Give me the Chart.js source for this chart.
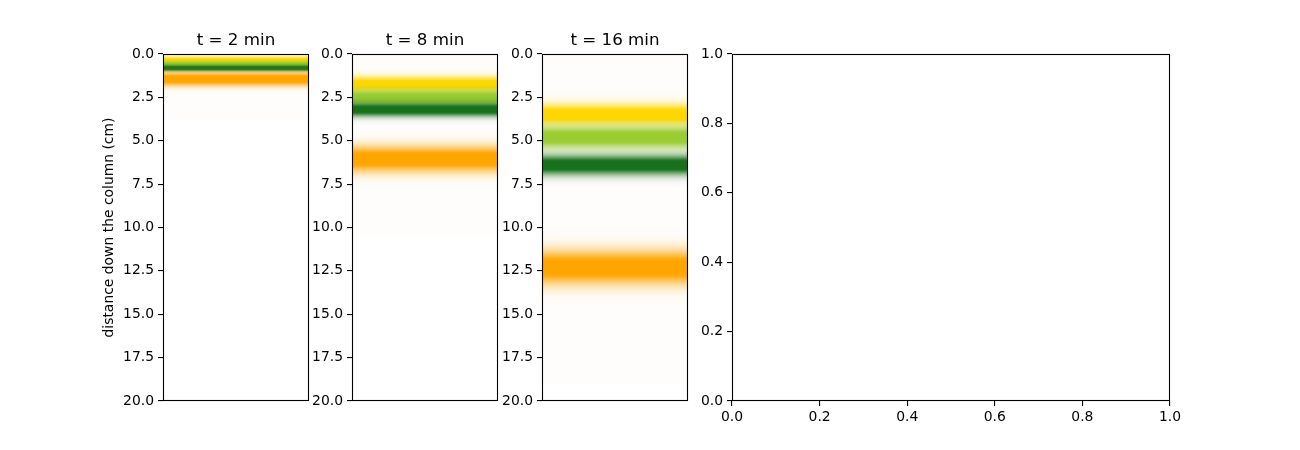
<!DOCTYPE html>
<html>
<head>
<meta charset="utf-8">
<script src="https://cdn.jsdelivr.net/npm/chart.js@4/dist/chart.umd.min.js"></script>
<style>
  body { margin: 0; background: #fff; width: 1300px; height: 450px; position: relative; overflow: hidden; }
  .panel { position: absolute; top: 0; height: 450px; }
</style>
</head>
<body>
<div class="panel" id="p0"><canvas id="c0"></canvas></div>
<div class="panel" id="p1"><canvas id="c1"></canvas></div>
<div class="panel" id="p2"><canvas id="c2"></canvas></div>
<div class="panel" id="p3"><canvas id="c3"></canvas></div>
<script>
// chart data
const timeLabels = ["t = 2 min", "t = 8 min", "t = 16 min"];
const pigmentNames = ["yellow", "yellow-green", "green", "orange"];
const pigmentColors = ["#ffd700", "#9acd32", "#17701a", "#ffa500"];
// band centres (cm down the column) per panel
const bandCenters2 = [0.40, 0.62, 0.82, 1.45];
const bandCenters8 = [1.75, 2.50, 3.20, 6.05];
const bandCenters16 = [3.50, 4.80, 6.40, 12.30];
// band spread (cm) per panel
const bandWidths2 = [0.17, 0.14, 0.12, 0.26];
const bandWidths8 = [0.30, 0.30, 0.27, 0.50];
const bandWidths16 = [0.40, 0.42, 0.38, 0.65];
// faint trail of solvent front
const smearEnds = [3.8, 10.5, 19.0];
const columnLength = 20;
const yLabel = "distance down the column (cm)";

const allCenters = [bandCenters2, bandCenters8, bandCenters16];
const allWidths = [bandWidths2, bandWidths8, bandWidths16];

// layout of the four axes (px)
const axLeft = [163, 352, 542, 732];
const axWidth = [146, 146, 146, 438];
const yAxisWidth = [72, 44, 44, 44];
const rightPad = 20;

Chart.defaults.font.family = "'DejaVu Sans', sans-serif";
Chart.defaults.font.size = 13.9;
Chart.defaults.color = "#000";

const framePlugin = {
  id: "frame",
  afterDatasetsDraw(chart) {
    const a = chart.chartArea;
    const ctx = chart.ctx;
    ctx.save();
    ctx.strokeStyle = "#000";
    ctx.lineWidth = 1.1;
    ctx.strokeRect(Math.round(a.left) + 0.5, Math.round(a.top) + 0.5,
      Math.round(a.right - a.left) - 1, Math.round(a.bottom - a.top) - 1);
    ctx.restore();
  }
};

function hexToRgb(h) {
  const n = parseInt(h.slice(1), 16);
  return [(n >> 16) & 255, (n >> 8) & 255, n & 255];
}

// fill each band with a soft gradient across its spread
function bandFill(color, c, s) {
  const rgb = hexToRgb(color);
  return function (ctx) {
    const chart = ctx.chart;
    if (!chart.chartArea) return color;
    const y = chart.scales.y;
    const p0 = y.getPixelForValue(c - 3.5 * s);
    const p1 = y.getPixelForValue(c + 3.5 * s);
    const g = chart.ctx.createLinearGradient(0, p0, 0, p1);
    const n = 28;
    for (let k = 0; k <= n; k++) {
      const d = -3.5 + 7 * k / n;
      const a = Math.min(1, 1.25 * Math.exp(-d * d / 2));
      g.addColorStop(k / n, "rgba(" + rgb[0] + "," + rgb[1] + "," + rgb[2] + "," + a.toFixed(3) + ")");
    }
    return g;
  };
}

function setPanel(i) {
  const el = document.getElementById("p" + i);
  el.style.left = (axLeft[i] - yAxisWidth[i]) + "px";
  el.style.width = (yAxisWidth[i] + axWidth[i] + rightPad) + "px";
}

for (let i = 0; i < 3; i++) {
  setPanel(i);
  const datasets = [{
    label: "trail",
    data: [[0, smearEnds[i]]],
    backgroundColor: "#fefdfc",
    order: 10
  }];
  for (let j = 0; j < pigmentNames.length; j++) {
    const c = allCenters[i][j], s = allWidths[i][j];
    datasets.push({
      label: pigmentNames[j],
      data: [[c - 3.5 * s, c + 3.5 * s]],
      backgroundColor: bandFill(pigmentColors[j], c, s),
      order: 5 - j
    });
  }
  new Chart("c" + i, {
    type: "bar",
    data: { labels: ["column"], datasets: datasets },
    plugins: [framePlugin],
    options: {
      responsive: true,
      maintainAspectRatio: false,
      animation: false,
      layout: { padding: { left: 0, right: rightPad, top: 0, bottom: 0 } },
      datasets: {
        bar: { grouped: false, categoryPercentage: 1, barPercentage: 1, borderWidth: 0, inflateAmount: 0 }
      },
      plugins: {
        legend: { display: false },
        tooltip: { enabled: false },
        title: {
          display: true,
          text: timeLabels[i],
          fullSize: false,
          font: { size: 16.7, weight: "normal" },
          padding: { top: 31, bottom: 3 }
        }
      },
      scales: {
        x: {
          grid: { display: false },
          border: { display: false },
          ticks: { display: false },
          afterFit: function (s) { s.height = 49; }
        },
        y: {
          reverse: true,
          min: 0,
          max: columnLength,
          grid: { drawOnChartArea: false, tickLength: 5, tickColor: "#000", lineWidth: 1.1 },
          border: { display: false },
          ticks: { stepSize: 2.5, padding: 4, callback: v => v.toFixed(1) },
          title: {
            display: i === 0,
            text: yLabel,
            padding: { top: 10, bottom: 0 }
          },
          afterFit: (function (w) { return function (s) { s.width = w; }; })(yAxisWidth[i])
        }
      }
    }
  });
}

// empty fourth axes
setPanel(3);
new Chart("c3", {
  type: "scatter",
  data: { datasets: [{ data: [] }] },
  plugins: [framePlugin],
  options: {
    responsive: true,
    maintainAspectRatio: false,
    animation: false,
    layout: { padding: { left: 0, right: rightPad, top: 54, bottom: 0 } },
    plugins: { legend: { display: false }, tooltip: { enabled: false } },
    scales: {
      x: {
        type: "linear",
        min: 0,
        max: 1,
        grid: { drawOnChartArea: false, tickLength: 5, tickColor: "#000", lineWidth: 1.1 },
        border: { display: false },
        ticks: { stepSize: 0.2, padding: 3, maxRotation: 0, callback: v => v.toFixed(1) },
        afterFit: function (s) { s.height = 49; }
      },
      y: {
        type: "linear",
        min: 0,
        max: 1,
        grid: { drawOnChartArea: false, tickLength: 5, tickColor: "#000", lineWidth: 1.1 },
        border: { display: false },
        ticks: { stepSize: 0.2, padding: 4, callback: v => v.toFixed(1) },
        afterFit: function (s) { s.width = 44; }
      }
    }
  }
});
</script>
</body>
</html>
